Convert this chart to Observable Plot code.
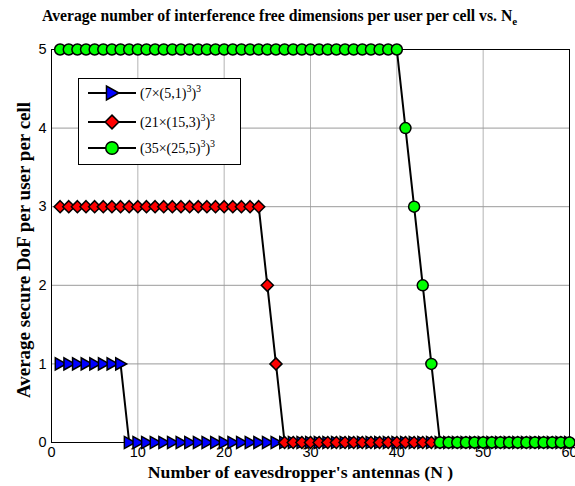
<!DOCTYPE html>
<html>
<head>
<meta charset="utf-8">
<script src="https://cdn.jsdelivr.net/npm/d3@7"></script>
<script src="https://cdn.jsdelivr.net/npm/@observablehq/plot@0.6"></script>
<style>
  body { margin: 0; background: #fff; }
  #wrap { position: relative; width: 575px; height: 486px; }
  #legend { position: absolute; left: 78px; top: 78px; }
</style>
</head>
<body>
<div id="wrap"></div>
<script>
const antennas = [1,2,3,4,5,6,7,8,9,10,11,12,13,14,15,16,17,18,19,20,21,22,23,24,25,26,27,28,29,30,31,32,33,34,35,36,37,38,39,40,41,42,43,44,45,46,47,48,49,50,51,52,53,54,55,56,57,58,59,60];
const dofA = [1,1,1,1,1,1,1,1,0,0,0,0,0,0,0,0,0,0,0,0,0,0,0,0,0,0,0,0,0,0,0,0,0,0,0,0,0,0,0,0,0,0,0,0,0,0,0,0,0,0,0,0,0,0,0,0,0,0,0,0];
const dofB = [3,3,3,3,3,3,3,3,3,3,3,3,3,3,3,3,3,3,3,3,3,3,3,3,2,1,0,0,0,0,0,0,0,0,0,0,0,0,0,0,0,0,0,0,0,0,0,0,0,0,0,0,0,0,0,0,0,0,0,0];
const dofC = [5,5,5,5,5,5,5,5,5,5,5,5,5,5,5,5,5,5,5,5,5,5,5,5,5,5,5,5,5,5,5,5,5,5,5,5,5,5,5,5,4,3,2,1,0,0,0,0,0,0,0,0,0,0,0,0,0,0,0,0];
const seriesNames = ["A", "B", "C"];
const seriesColors = ["#0000ff", "#ff0000", "#00ff00"];
const xTicks = [0,10,20,30,40,50,60];
const yTicks = [0,1,2,3,4,5];

const triRight = {draw(ctx, size) { const h = Math.sqrt(size) * 0.62; ctx.moveTo(h, 0); ctx.lineTo(-h*0.8, -h); ctx.lineTo(-h*0.8, h); ctx.closePath(); }};
const diamond = {draw(ctx, size) { const h = Math.sqrt(size) * 0.62; ctx.moveTo(0, -h); ctx.lineTo(h, 0); ctx.lineTo(0, h); ctx.lineTo(-h, 0); ctx.closePath(); }};
const symbols = [triRight, diamond, "circle"];
const radii = [5.5, 5.5, 5.5];

const series = [dofA, dofB, dofC].map((vals, k) => antennas.map((n, i) => ({n, v: vals[i], s: seriesNames[k]})));

const marks = [
  Plot.gridX(xTicks.slice(1, -1), {stroke: "#b4b4b4", strokeOpacity: 1, strokeWidth: 1}),
  Plot.gridY(yTicks.slice(1, -1), {stroke: "#9a9a9a", strokeOpacity: 1, strokeWidth: 1}),
  Plot.frame({stroke: "#000", strokeWidth: 1})
];
series.forEach((data, k) => {
  marks.push(Plot.line(data, {x: "n", y: "v", stroke: "#000", strokeWidth: 2}));
  marks.push(Plot.dot(data, {x: "n", y: "v", symbol: () => symbols[k], r: radii[k], fill: seriesColors[k], stroke: "#000", strokeWidth: 1.5}));
});
marks.push(
  Plot.axisX(xTicks, {tickSize: 0, tickPadding: 4, fontSize: 14.5, tickFormat: "d"}),
  Plot.axisY(yTicks, {tickSize: 0, tickPadding: 5, fontSize: 14.5, tickFormat: "d"}),
  Plot.text(["Number of eavesdropper's antennas (N )"], {frameAnchor: "bottom", dx: -10, dy: 35, fontFamily: "Liberation Serif", fontWeight: "bold", fontSize: 17.7, fill: "#000"}),
  Plot.text(["Average secure DoF per user per cell"], {frameAnchor: "left", textAnchor: "middle", rotate: -90, dx: -28, dy: 4, fontFamily: "Liberation Serif", fontWeight: "bold", fontSize: 19, fill: "#000"})
);

const chart = Plot.plot({
  width: 575,
  height: 486,
  marginLeft: 51,
  marginRight: 6,
  marginTop: 49,
  marginBottom: 44,
  x: {domain: [0, 60], label: null},
  y: {domain: [0, 5], label: null},
  symbol: {type: "identity"},
  style: {fontFamily: "Liberation Sans, Arial, sans-serif", fontSize: "14.5px", color: "#000", background: "#fff"},
  marks
});
chart.style.overflow = "visible";
document.getElementById("wrap").prepend(chart);

// Title (real text with subscript)
const title = d3.select(chart).append("text").attr("x", 42).attr("y", 21).attr("text-anchor", "start")
  .attr("font-family", "Liberation Serif, serif").attr("font-weight", "bold").attr("font-size", 15.7).attr("fill", "#000");
title.append("tspan").text("Average number of interference free dimensions per user per cell vs. N");
title.append("tspan").attr("dy", 4).attr("font-size", 11).text("e");

// Legend
const legendLabels = [["(7×(5,1)", "3", ")", "3"], ["(21×(15,3)", "3", ")", "3"], ["(35×(25,5)", "3", ")", "3"]];
const lw = 162, lh = 86;
const svg = d3.select("#wrap").append("svg").attr("id", "legend").attr("width", lw + 2).attr("height", lh + 2);
svg.append("rect").attr("x", 0.5).attr("y", 0.5).attr("width", lw).attr("height", lh).attr("fill", "#fff").attr("stroke", "#000").attr("stroke-width", 1);
const rowY = [15, 44, 70];
legendLabels.forEach((parts, k) => {
  const g = svg.append("g").attr("transform", `translate(0,${rowY[k]})`);
  g.append("line").attr("x1", 10).attr("x2", 58).attr("y1", 0).attr("y2", 0).attr("stroke", "#000").attr("stroke-width", 2);
  const sym = symbols[k] === "circle" ? d3.symbolCircle : symbols[k];
  g.append("path").attr("transform", "translate(34,0)").attr("d", d3.symbol(sym, Math.PI * radii[k] * radii[k] * 1.3)()).attr("fill", seriesColors[k]).attr("stroke", "#000").attr("stroke-width", 1.5);
  const t = g.append("text").attr("x", 62).attr("y", 5).attr("font-family", "Liberation Serif, serif").attr("font-size", 14).attr("fill", "#000");
  t.append("tspan").text(parts[0]);
  t.append("tspan").attr("dy", -6).attr("font-size", 10).text(parts[1]);
  t.append("tspan").attr("dy", 6).text(parts[2]);
  t.append("tspan").attr("dy", -6).attr("font-size", 10).text(parts[3]);
});
</script>
</body>
</html>
